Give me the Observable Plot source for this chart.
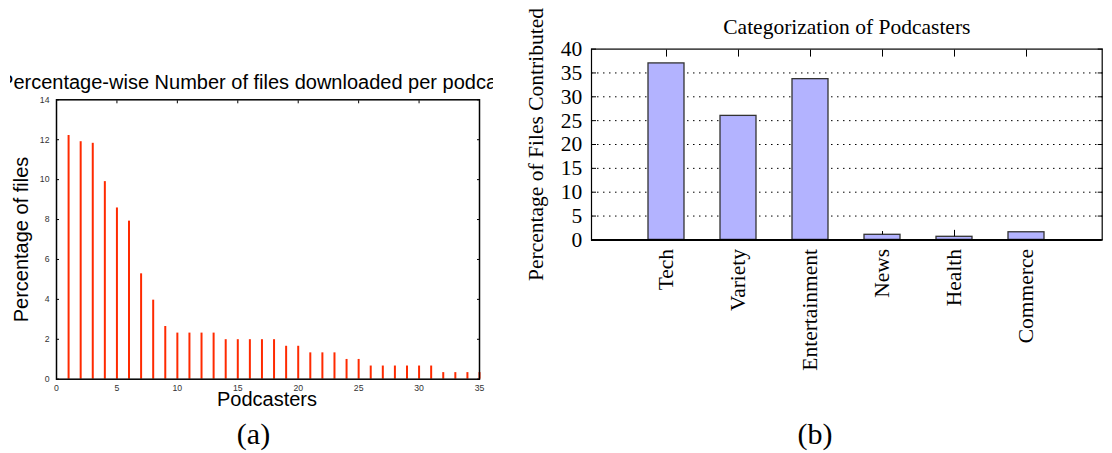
<!DOCTYPE html>
<html><head><meta charset="utf-8">
<script src="https://cdn.jsdelivr.net/npm/d3@7"></script>
<script src="https://cdn.jsdelivr.net/npm/@observablehq/plot@0.6"></script>
<style>
body{margin:0;background:#fff;width:1112px;height:453px;overflow:hidden;position:relative;}
#a{position:absolute;left:10px;top:0;width:483px;height:453px;}
#b{position:absolute;left:500px;top:0;width:612px;height:453px;}
#a svg,#b svg{overflow:hidden;}
</style></head><body>
<div id="a"></div><div id="b"></div>
<script>
// ---- Panel (a) data ----
const titleA = "Percentage-wise Number of files downloaded per podcaster";
const xLabelA = "Podcasters";
const yLabelA = "Percentage of files";
const podcasterRank = [1,2,3,4,5,6,7,8,9,10,11,12,13,14,15,16,17,18,19,20,21,22,23,24,25,26,27,28,29,30,31,32,33,34,35];
const pctFiles = [12.21,11.9,11.82,9.9,8.58,7.92,5.28,3.96,2.64,2.31,2.31,2.31,2.31,1.98,1.98,1.98,1.98,1.98,1.65,1.65,1.32,1.32,1.32,0.99,0.99,0.66,0.66,0.66,0.66,0.66,0.66,0.33,0.33,0.33,0.33];
const xTicksA = [0,5,10,15,20,25,30,35];
const yTicksA = [0,2,4,6,8,10,12,14];

// ---- Panel (b) data ----
const titleB = "Categorization of Podcasters";
const yLabelB = "Percentage of Files Contributed";
const categories = ["Tech","Variety","Entertainment","News","Health","Commerce"];
const catPct = [37,26,33.7,1.07,0.65,1.6];
const catErrHigh = [null,null,null,1.75,2.0,null];
const yTicksB = [0,5,10,15,20,25,30,35,40];
const gridB = [5,10,15,20,25,30,35];

const rowsA = podcasterRank.map((r,i)=>({rank:r,pct:pctFiles[i]}));
const rowsB = categories.map((c,i)=>({cat:c,pct:catPct[i],hi:catErrHigh[i]}));
const errRows = rowsB.filter(d=>d.hi!=null);

const sans = "'Liberation Sans', Arial, Helvetica, sans-serif";
const serif = "'Liberation Serif', 'Times New Roman', Times, serif";
const blank = () => "";

const A = Plot.plot({
  width: 483, height: 453,
  marginLeft: 46, marginRight: 14, marginTop: 99.3, marginBottom: 74.3,
  style: {fontFamily: sans, background: "white"},
  x: {domain: [0,35]},
  y: {domain: [0,14]},
  marks: [
    Plot.ruleX(rowsA, {x:"rank", y1:0, y2:"pct", stroke:"#ff2a00", strokeWidth:2}),
    Plot.frame({stroke:"black", strokeWidth:1.5}),
    Plot.axisY(yTicksA, {anchor:"left", tickSize:0, tickPadding:7, fontSize:8.7, fill:"#333", label:null}),
    Plot.axisY(yTicksA, {anchor:"left", tickSize:-3, tickFormat:blank, label:null}),
    Plot.axisY(yTicksA, {anchor:"right", tickSize:-3, tickFormat:blank, label:null}),
    Plot.axisX(xTicksA, {anchor:"bottom", tickSize:0, tickPadding:6, fontSize:8.7, fill:"#333", label:null}),
    Plot.axisX(xTicksA, {anchor:"top", tickSize:-3, tickFormat:blank, label:null}),
    Plot.text([titleA], {text:d=>d, frameAnchor:"top", dy:-11, dx:-2.8, textAnchor:"middle", lineAnchor:"bottom", fontSize:20, fill:"black"}),
    Plot.text([yLabelA], {text:d=>d, frameAnchor:"left", dx:-29, rotate:-90, textAnchor:"middle", lineAnchor:"bottom", fontSize:20, fill:"black"}),
    Plot.text([xLabelA], {text:d=>d, frameAnchor:"bottom", dy:26.3, dx:-1, textAnchor:"middle", lineAnchor:"bottom", fontSize:20, fill:"black"}),
    Plot.text(["(a)"], {text:d=>d, frameAnchor:"bottom", dy:64.3, dx:-14.5, textAnchor:"middle", lineAnchor:"bottom", fontSize:30, fontFamily:serif, fill:"black"})
  ]
});
document.getElementById("a").appendChild(A);

const B = Plot.plot({
  width: 612, height: 453,
  marginLeft: 91, marginRight: 10.3, marginTop: 48.6, marginBottom: 213.6,
  style: {fontFamily: serif, background: "white"},
  x: {type:"band", domain: categories, paddingInner:0.5, paddingOuter:0.75},
  y: {domain: [0,40]},
  marks: [
    Plot.ruleY(gridB, {stroke:"black", strokeWidth:1, strokeDasharray:"1.5,4.5"}),
    Plot.barY(rowsB, {x:"cat", y:"pct", fill:"#b3b3ff", stroke:"#333", strokeWidth:1.3}),
    Plot.ruleX(errRows, {x:"cat", y1:"pct", y2:"hi", stroke:"black", strokeWidth:1}),
    Plot.frame({stroke:"black", strokeWidth:1.2}),
    Plot.ruleY([0], {stroke:"black", strokeWidth:2}),
    Plot.axisY(yTicksB, {anchor:"left", tickSize:0, tickPadding:9.3, fontSize:21.5, fill:"black", label:null}),
    Plot.axisY(yTicksB, {anchor:"left", tickSize:-5, tickFormat:blank, label:null}),
    Plot.axisY(yTicksB, {anchor:"right", tickSize:-5, tickFormat:blank, label:null}),
    Plot.axisX({anchor:"top", tickSize:-7, tickFormat:blank, label:null}),
    Plot.text(categories, {x:d=>d, text:d=>d, frameAnchor:"bottom", rotate:-90, textAnchor:"end", lineAnchor:"middle", dy:9, fontSize:21.5, fill:"black"}),
    Plot.text([titleB], {text:d=>d, frameAnchor:"top", dy:-15.6, textAnchor:"middle", lineAnchor:"bottom", fontSize:21.5, fill:"black"}),
    Plot.text([yLabelB], {text:d=>d, frameAnchor:"left", dx:-48.3, rotate:-90, textAnchor:"middle", lineAnchor:"bottom", fontSize:21.5, fill:"black"}),
    Plot.text(["(b)"], {text:d=>d, frameAnchor:"bottom", dy:203.6, dx:-31.8, textAnchor:"middle", lineAnchor:"bottom", fontSize:30, fill:"black"})
  ]
});
document.getElementById("b").appendChild(B);
</script>
</body></html>
